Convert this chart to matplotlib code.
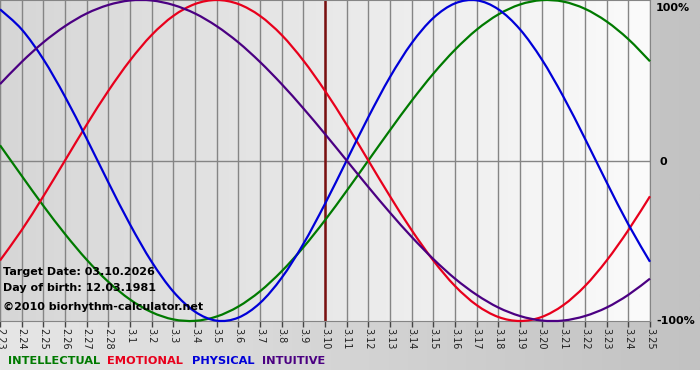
import numpy as np
import matplotlib
matplotlib.use("Agg")
import matplotlib.pyplot as plt
from matplotlib.colors import LinearSegmentedColormap
from matplotlib.path import Path
from matplotlib.patches import PathPatch

# days shown (month.day)
day_labels = ["2.23", "2.24", "2.25", "2.26", "2.27", "2.28",
              "3.1", "3.2", "3.3", "3.4", "3.5", "3.6", "3.7", "3.8", "3.9", "3.10",
              "3.11", "3.12", "3.13", "3.14", "3.15", "3.16", "3.17", "3.18", "3.19",
              "3.20", "3.21", "3.22", "3.23", "3.24", "3.25"]
target_idx = 15

# values, one per day (-1 .. 1)
intellectual = [0.095, -0.095, -0.282, -0.458, -0.618, -0.756, -0.866, -0.945, -0.990, -0.999,
                -0.972, -0.910, -0.815, -0.690, -0.541, -0.372, -0.189, 0.0, 0.189, 0.372,
                0.541, 0.690, 0.815, 0.910, 0.972, 0.999, 0.990, 0.945, 0.866, 0.756, 0.618]
emotional = [-0.623, -0.434, -0.223, 0.0, 0.223, 0.434, 0.623, 0.782, 0.901, 0.975,
             1.0, 0.975, 0.901, 0.782, 0.623, 0.434, 0.223, 0.0, -0.223, -0.434,
             -0.623, -0.782, -0.901, -0.975, -1.0, -0.975, -0.901, -0.782, -0.623, -0.434, -0.223]
physical = [0.942, 0.817, 0.631, 0.398, 0.136, -0.136, -0.398, -0.631, -0.817, -0.942,
            -0.998, -0.979, -0.888, -0.731, -0.520, -0.270, 0.0, 0.270, 0.520, 0.731,
            0.888, 0.979, 0.998, 0.942, 0.817, 0.631, 0.398, 0.136, -0.136, -0.398, -0.631]
intuitive = [0.476, 0.614, 0.736, 0.837, 0.916, 0.969, 0.997, 0.997, 0.969, 0.916,
             0.837, 0.736, 0.614, 0.476, 0.325, 0.165, 0.0, -0.165, -0.325, -0.476,
             -0.614, -0.736, -0.837, -0.916, -0.969, -0.997, -0.997, -0.969, -0.916, -0.837, -0.736]

series = [("INTELLECTUAL", intellectual, "#007a00"),
          ("EMOTIONAL", emotional, "#e8001c"),
          ("PHYSICAL", physical, "#0000d8"),
          ("INTUITIVE", intuitive, "#4b0082")]


def smooth_path(x, y):
    # catmull-rom through the daily points, as cubic bezier segments
    px = np.concatenate([[x[0]], x, [x[-1]]])
    py = np.concatenate([[y[0]], y, [y[-1]]])
    verts = [(x[0], y[0])]
    codes = [Path.MOVETO]
    for i in range(1, len(px) - 2):
        c1 = (px[i] + (px[i + 1] - px[i - 1]) / 6, py[i] + (py[i + 1] - py[i - 1]) / 6)
        c2 = (px[i + 1] - (px[i + 2] - px[i]) / 6, py[i + 1] - (py[i + 2] - py[i]) / 6)
        verts += [c1, c2, (px[i + 1], py[i + 1])]
        codes += [Path.CURVE4] * 3
    return Path(verts, codes)


W, H = 700, 380
fig = plt.figure(figsize=(W / 100, H / 100), dpi=100)
fig.patch.set_facecolor("white")

# outer gray frame
bg = fig.add_axes([0, 10 / H, 1, 370 / H])
bg.imshow(np.linspace(0, 1, 256)[None, :], aspect="auto", extent=[0, 1, 0, 1],
          cmap=LinearSegmentedColormap.from_list("f", ["#e6e6e6", "#c2c2c2"]))
bg.set_axis_off()

ax = fig.add_axes([0, 1 - 321 / H, 650 / W, 321 / H])
n = len(day_labels)
x = np.arange(n)
ax.imshow(np.linspace(0, 1, 256)[None, :], aspect="auto", extent=[0, n - 1, -1, 1],
          cmap=LinearSegmentedColormap.from_list("p", ["#d6d6d6", "#fbfbfb"]), zorder=0)
ax.set_xlim(0, n - 1)
ax.set_ylim(-1, 1)

for xi in x:
    ax.axvline(xi, color="#858585", lw=1, zorder=1)
ax.axhline(0, color="#858585", lw=1, zorder=1)
ax.axvline(target_idx, color="#7a1010", lw=1.8, zorder=2)

for name, vals, col in series:
    ax.add_patch(PathPatch(smooth_path(x, np.array(vals)), fill=False, edgecolor=col,
                           lw=1.6, zorder=3, clip_on=False))

for s in ax.spines.values():
    s.set_color("#858585")
ax.set_xticks(x)
ax.set_xticklabels(day_labels, rotation=270, fontsize=7, color="#222222")
ax.tick_params(axis="x", length=4, width=1, color="#444444", pad=1)
ax.set_yticks([])

fig.text(656 / W, 1 - 8 / H, "100%", ha="left", va="center", fontsize=8, fontweight="bold")
fig.text(660 / W, 1 - 162 / H, "0", ha="left", va="center", fontsize=8, fontweight="bold")
fig.text(656 / W, 1 - 321 / H, "-100%", ha="left", va="center", fontsize=8, fontweight="bold")

info = ["Target Date: 03.10.2026", "Day of birth: 12.03.1981"]
fig.text(3 / W, 1 - 272 / H, info[0], ha="left", va="center", fontsize=8, fontweight="bold")
fig.text(3 / W, 1 - 288 / H, info[1], ha="left", va="center", fontsize=8, fontweight="bold")
fig.text(3 / W, 1 - 307 / H, "\u00a92010 biorhythm-calculator.net", ha="left", va="center",
         fontsize=8, fontweight="bold")

legend_x = [8, 107, 192, 262]
for (name, vals, col), lx in zip(series, legend_x):
    fig.text(lx / W, 1 - 361 / H, name, ha="left", va="center", fontsize=8.2,
             fontweight="bold", color=col)

fig.savefig("out.png", dpi=100)
